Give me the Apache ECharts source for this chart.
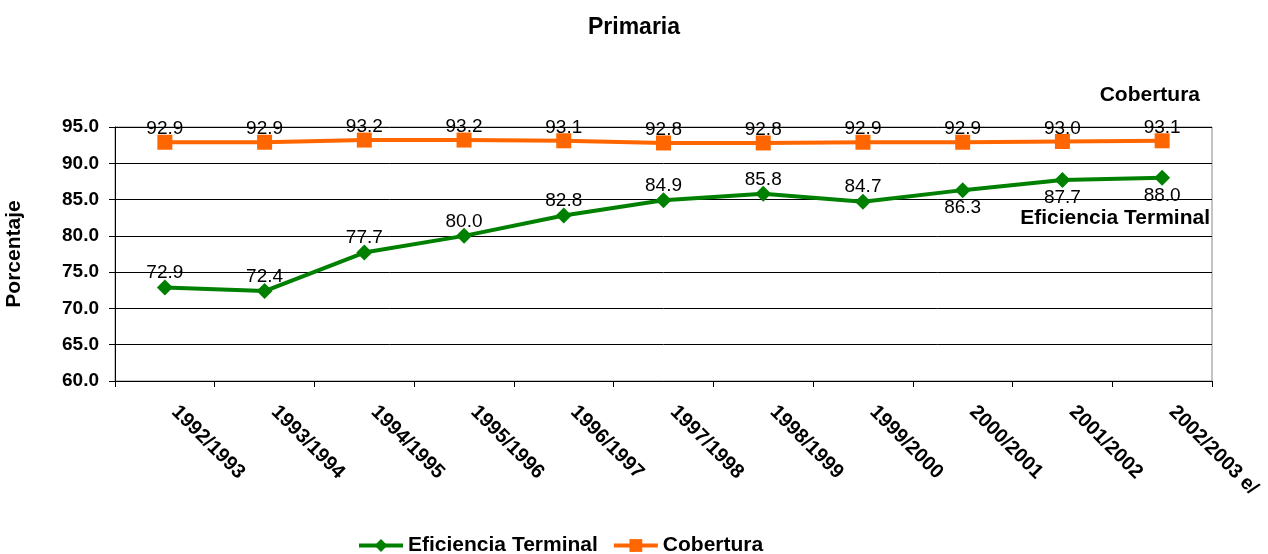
<!DOCTYPE html>
<html><head><meta charset="utf-8">
<script src="https://cdn.jsdelivr.net/npm/echarts@6/dist/echarts.min.js"></script>
<style>html,body{margin:0;padding:0;background:#fff}#c{width:1268px;height:554px}</style>
</head><body><div id="c"></div>
<script>
const categories = ['1992/1993','1993/1994','1994/1995','1995/1996','1996/1997','1997/1998','1998/1999','1999/2000','2000/2001','2001/2002','2002/2003 e/'];
const eficiencia = [72.9,72.4,77.7,80.0,82.8,84.9,85.8,84.7,86.3,87.7,88.0];
const cobertura = [92.9,92.9,93.2,93.2,93.1,92.8,92.8,92.9,92.9,93.0,93.1];
const belowLabels = ['2000/2001','2001/2002','2002/2003 e/'];

const FONT = '"Liberation Sans", Arial, sans-serif';
const chart = echarts.init(document.getElementById('c'));
chart.setOption({
  animation: false,
  textStyle: {fontFamily: FONT},
  title: {text: 'Primaria', left: 'center', top: 11, textStyle: {fontFamily: FONT, fontSize: 23, fontWeight: 'bold', color: '#000'}},
  grid: {left: 115, right: 56, top: 127, bottom: 173, show: true, borderColor: '#888', borderWidth: 1, containLabel: false, outerBoundsMode: 'none'},
  xAxis: {
    type: 'category', data: categories, boundaryGap: true,
    axisLine: {lineStyle: {color: '#000'}},
    axisTick: {show: true, length: 6, lineStyle: {color: '#000'}},
    axisLabel: {rotate: -45, fontFamily: FONT, fontSize: 20, fontWeight: 'bold', color: '#000', margin: 18, padding: [0, 0, 0, 14], interval: 0}
  },
  yAxis: {
    type: 'value', min: 60, max: 95, interval: 5,
    name: 'Porcentaje', nameLocation: 'middle', nameGap: 90,
    nameTextStyle: {fontFamily: FONT, fontSize: 21, fontWeight: 'bold', color: '#000'},
    axisLine: {show: true, lineStyle: {color: '#000'}},
    axisTick: {show: true, length: 6, lineStyle: {color: '#000'}},
    splitLine: {lineStyle: {color: '#000'}},
    axisLabel: {formatter: v => v.toFixed(1), fontFamily: FONT, fontSize: 19, fontWeight: 'bold', color: '#000', margin: 16}
  },
  legend: {
    top: 530, left: 352, itemWidth: 44, itemHeight: 16, itemGap: 14,
    lineStyle: {width: 4},
    textStyle: {fontFamily: FONT, fontSize: 21, fontWeight: 'bold', color: '#000'},
    data: ['Eficiencia Terminal', 'Cobertura']
  },
  graphic: [
    {type: 'text', right: 68, top: 85, style: {text: 'Cobertura', font: 'bold 21px ' + FONT, fill: '#000'}},
    {type: 'text', right: 58, top: 208, style: {text: 'Eficiencia Terminal', font: 'bold 21px ' + FONT, fill: '#000'}}
  ],
  series: [
    {
      name: 'Eficiencia Terminal', type: 'line', data: eficiencia.map((v, i) => ({
        value: v,
        label: belowLabels.includes(categories[i]) ? {position: 'bottom', distance: 0} : {position: 'top', distance: -3}
      })),
      color: '#008000', symbol: 'diamond', symbolSize: 16,
      lineStyle: {width: 4, color: '#008000'},
      label: {show: true, formatter: p => p.value.toFixed(1), fontFamily: FONT, fontSize: 19, color: '#000'}
    },
    {
      name: 'Cobertura', type: 'line', data: cobertura,
      color: '#FF6600', symbol: 'rect', symbolSize: 15,
      lineStyle: {width: 4, color: '#FF6600'},
      label: {show: true, position: 'top', formatter: p => p.value.toFixed(1), fontFamily: FONT, fontSize: 19, color: '#000', distance: -4}
    }
  ]
});
</script></body></html>
